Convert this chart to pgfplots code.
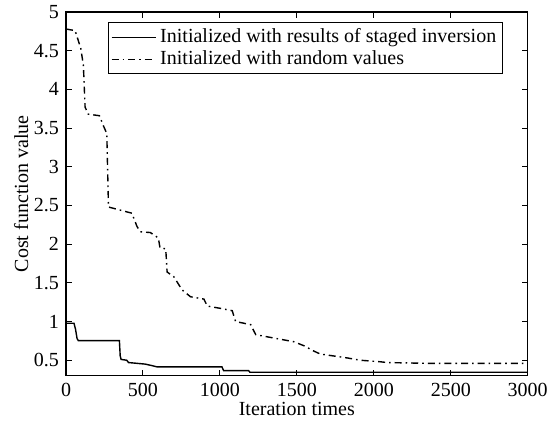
\documentclass[border=0pt]{standalone}
\usepackage{fontspec}
\setmainfont{Liberation Serif}
\usepackage{pgfplots}
\pgfplotsset{compat=1.18}
\begin{document}
\fontsize{10}{11}\selectfont
\begin{tikzpicture}
\useasboundingbox (-33pt,-23.65pt) rectangle (247pt,187.85pt);
\begin{axis}[
  at={(0,0)}, anchor=south west,
  scale only axis,
  width=230.85pt, height=181.85pt,
  xmin=0, xmax=3000, ymin=0.3, ymax=5,
  xtick={0,500,1000,1500,2000,2500,3000},
  ytick={0.5,1,1.5,2,2.5,3,3.5,4,4.5,5},
  yticklabels={0.5,1,1.5,2,2.5,3,3.5,4,4.5,5},
  xticklabels={0,500,1000,1500,2000,2500,3000},
  tick align=inside, xtick pos=both, ytick pos=both,
  major tick length=3pt,
  axis line style={line width=0.6pt},
  every tick/.style={black, line width=0.5pt},
  /pgf/number format/assume math mode=true,
  tick label style={font=\fontsize{10}{11}\selectfont},
  label style={font=\fontsize{10}{11}\selectfont},
  xlabel={Iteration times},
  ylabel={Cost function value},
  xlabel style={yshift=4pt},
  ylabel style={yshift=-4pt},
  legend style={at={(0.946,0.972)}, anchor=north east, draw=black, line width=0.5pt,
    font=\fontsize{10}{11}\selectfont, inner sep=1pt, row sep=-1.5pt, cells={anchor=west}},
  legend image code/.code={\draw[#1, line width=0.7pt] (-2pt,0pt) -- (20pt,0pt);},
]
\addplot[black, line width=0.7pt] coordinates {
(0,0.978) (52,0.978) (62,0.90) (72,0.78) (80,0.753) (347,0.753) (352,0.56) (358,0.51)
(395,0.50) (406,0.47) (460,0.46) (514,0.45) (560,0.43) (590,0.415) (1013,0.415)
(1024,0.366) (1186,0.366) (1195,0.345) (3000,0.345)
};
\addlegendentry{Initialized with results of staged inversion}
\addplot[black, line width=0.7pt, dash pattern=on 3.5pt off 2pt on 0.8pt off 2pt] coordinates {
(0,4.78) (59,4.76) (96,4.53) (113,4.31) (124,3.77) (145,3.68) (217,3.66) (243,3.53)
(265,3.43) (276,2.48) (352,2.44) (428,2.40) (461,2.23) (483,2.16) (548,2.15) (600,2.08)
(611,1.95) (648,1.94) (657,1.64) (700,1.58) (754,1.41) (809,1.32) (896,1.29) (918,1.20)
(1004,1.17) (1080,1.14) (1102,1.00) (1200,0.96) (1233,0.83) (1396,0.77) (1479,0.74)
(1555,0.68) (1598,0.63) (1652,0.58) (1826,0.53) (1912,0.50) (2043,0.48) (2086,0.47)
(2347,0.46) (3000,0.46)
};
\addlegendentry{Initialized with random values}
\end{axis}
\end{tikzpicture}
\end{document}
